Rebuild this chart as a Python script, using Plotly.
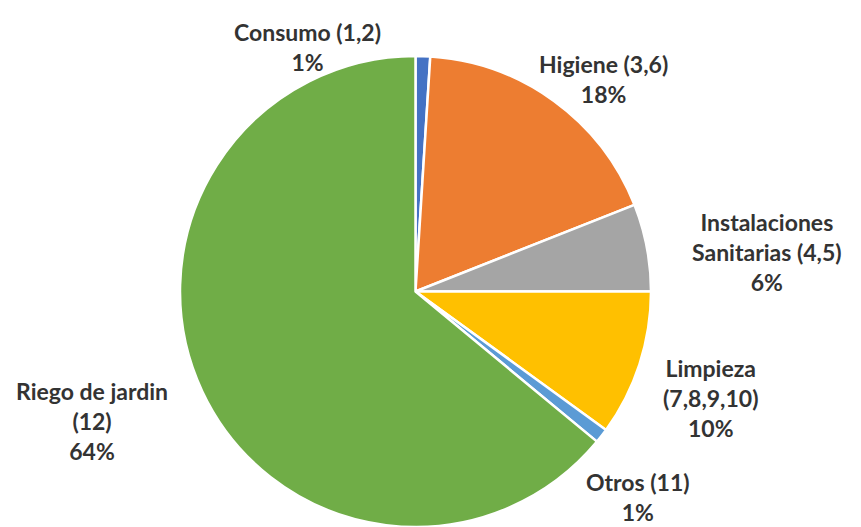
import plotly.graph_objects as go

# Water use by category (share of total)
categorias = ["Consumo (1,2)", "Higiene (3,6)", "Instalaciones Sanitarias (4,5)",
              "Limpieza (7,8,9,10)", "Otros (11)", "Riego de jardin (12)"]
porcentajes = [1, 18, 6, 10, 1, 64]
colores = ["#4472C4", "#ED7D31", "#A5A5A5", "#FFC000", "#5B9BD5", "#70AD47"]

# How each category name is broken into lines in its label
lineas_etiqueta = [
    ["Consumo (1,2)"],
    ["Higiene (3,6)"],
    ["Instalaciones", "Sanitarias (4,5)"],
    ["Limpieza", "(7,8,9,10)"],
    ["Otros (11)"],
    ["Riego de jardin", "(12)"],
]

W, H = 861, 527
# label anchor: centre of each label block, in pixels from top-left
anclas = [(307, 47), (603, 79), (767, 252), (710, 398), (638, 497), (92, 421)]

fig = go.Figure(go.Pie(
    labels=categorias,
    values=porcentajes,
    sort=False,
    direction="clockwise",
    rotation=0,
    marker=dict(colors=colores, line=dict(color="white", width=2.5)),
    textinfo="none",
    hoverinfo="label+percent",
    domain=dict(x=[180 / W, 651 / W], y=[0, 471 / H]),
    showlegend=False,
))

total = sum(porcentajes)
anotaciones = []
for lineas, valor, (ax, ay) in zip(lineas_etiqueta, porcentajes, anclas):
    texto = "<br>".join(lineas + [f"{round(valor / total * 100)}%"])
    anotaciones.append(dict(
        text=texto, x=ax / W, y=1 - ay / H,
        xref="paper", yref="paper", xanchor="center", yanchor="middle",
        showarrow=False, borderpad=0,
        font=dict(family="Lato", size=23, color="#333333", weight="bold"),
    ))

fig.update_layout(
    width=W, height=H,
    margin=dict(l=0, r=0, t=0, b=0),
    paper_bgcolor="white", plot_bgcolor="white",
    annotations=anotaciones,
)

fig.write_html("out.html")
